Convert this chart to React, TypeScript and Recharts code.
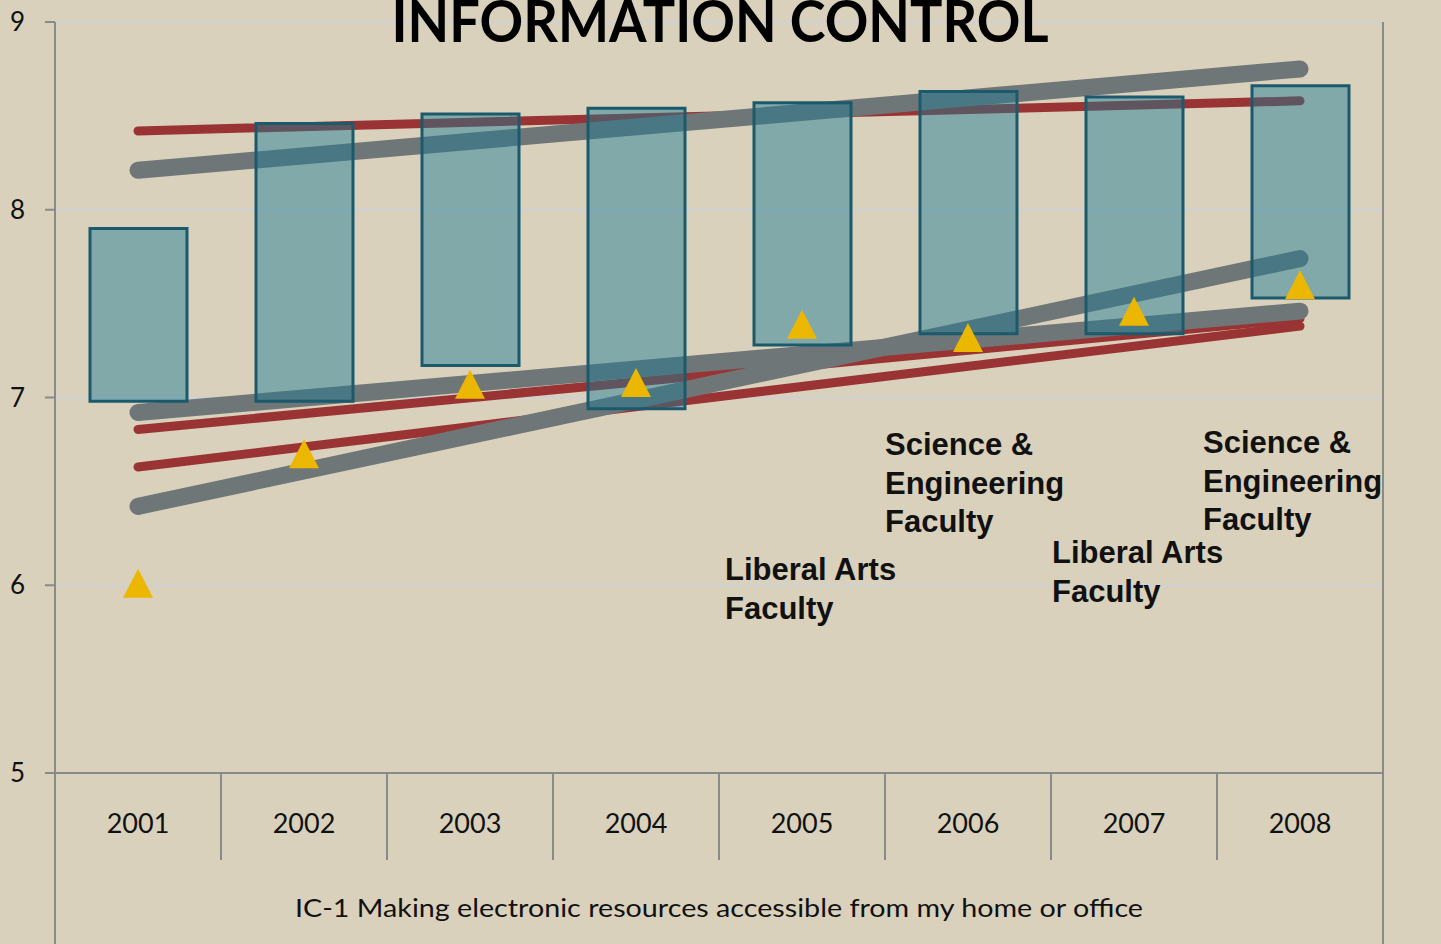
import React from 'react';
import { ComposedChart, Bar, Line, XAxis, YAxis, CartesianGrid } from 'recharts';

const years = ['2001', '2002', '2003', '2004', '2005', '2006', '2007', '2008'];
const rangeLow = [6.98, 6.98, 7.17, 6.94, 7.28, 7.34, 7.34, 7.53];
const rangeHigh = [7.9, 8.46, 8.51, 8.54, 8.57, 8.63, 8.6, 8.66];
const ratings = [6.01, 6.7, 7.07, 7.08, 7.39, 7.32, 7.46, 7.6];

// trend lines: value at 2001, value at 2008
const greyTrendA = [8.21, 8.75];
const redTrendA = [8.42, 8.58];
const greyTrendB = [6.92, 7.46];
const redTrendB = [6.83, 7.42];
const redTrendC = [6.63, 7.38];
const greyTrendC = [6.42, 7.74];

const yTicks = [5, 6, 7, 8, 9];

const BG = '#d9d1bc';
const AXIS = '#8a8a8a';
const GRID = '#cfd0d3';
const RED = '#9a3434';
const GREY = '#6f7678';

const W = 1441;
const H = 944;
const PLOT_LEFT = 55;
const PLOT_RIGHT = 1383;
const PLOT_TOP = 22;
const PLOT_BOTTOM = 773;
const BAND = (PLOT_RIGHT - PLOT_LEFT) / years.length;
const BAR_SIZE = 97;

const ends = (pair: number[], i: number) =>
  i === 0 ? pair[0] : i === years.length - 1 ? pair[1] : null;

const data = years.map((year, i) => ({
  year,
  range: [rangeLow[i], rangeHigh[i]],
  rating: ratings[i],
  greyA: ends(greyTrendA, i),
  redA: ends(redTrendA, i),
  greyB: ends(greyTrendB, i),
  redB: ends(redTrendB, i),
  redC: ends(redTrendC, i),
  greyC: ends(greyTrendC, i),
}));

const annotations = [
  { lines: ['Science &', 'Engineering', 'Faculty'], x: 885, y: 455 },
  { lines: ['Science &', 'Engineering', 'Faculty'], x: 1203, y: 453 },
  { lines: ['Liberal Arts', 'Faculty'], x: 725, y: 580 },
  { lines: ['Liberal Arts', 'Faculty'], x: 1052, y: 563 },
];

const Triangle = (props: any) => {
  const { cx, cy, index } = props;
  if (cx == null || cy == null) return null;
  const w = 30;
  const h = 29;
  return (
    <polygon
      key={`tri-${index}`}
      points={`${cx},${cy - h / 2} ${cx - w / 2},${cy + h / 2} ${cx + w / 2},${cy + h / 2}`}
      fill="#ecb700"
    />
  );
};

const YearTick = (props: any) => {
  const { x, y, payload, index } = props;
  return (
    <g>
      <text x={x} y={y + 60} textAnchor="middle" fontFamily="Lato" fontSize={27} fill="#111">
        {payload.value}
      </text>
      {index < years.length - 1 && (
        <line x1={x + BAND / 2} y1={y} x2={x + BAND / 2} y2={y + 87} stroke={AXIS} strokeWidth={2} />
      )}
    </g>
  );
};

const trendLine = (key: string, color: string, width: number) => (
  <Line
    key={key}
    yAxisId="left"
    dataKey={key}
    type="linear"
    stroke={color}
    strokeWidth={width}
    strokeLinecap="round"
    connectNulls
    dot={false}
    activeDot={false}
    isAnimationActive={false}
  />
);

const layer: React.CSSProperties = { position: 'absolute', left: 0, top: 0 };

export default function App() {
  return (
    <div style={{ position: 'absolute', left: 0, top: 0, width: W, height: H, background: BG, overflow: 'hidden' }}>
      {/* axes, grid and trend lines (drawn under the bars) */}
      <div style={layer}>
        <ComposedChart
          width={W}
          height={H}
          data={data}
          margin={{ top: PLOT_TOP, right: 0, bottom: 0, left: 0 }}
        >
          <CartesianGrid yAxisId="left" vertical={false} stroke={GRID} strokeWidth={2} />
          <XAxis
            dataKey="year"
            height={H - PLOT_BOTTOM}
            axisLine={{ stroke: AXIS, strokeWidth: 2 }}
            tickLine={false}
            tickSize={0}
            tickMargin={0}
            tick={<YearTick />}
            interval={0}
          />
          <YAxis
            yAxisId="left"
            width={PLOT_LEFT}
            domain={[5, 9]}
            ticks={yTicks}
            axisLine={{ stroke: AXIS, strokeWidth: 2 }}
            tickLine={{ stroke: AXIS, strokeWidth: 2 }}
            tickSize={10}
            tickMargin={20}
            tick={{ fontFamily: 'Lato', fontSize: 26, fill: '#111' }}
          />
          <YAxis
            yAxisId="right"
            orientation="right"
            width={W - PLOT_RIGHT}
            domain={[5, 9]}
            ticks={yTicks}
            axisLine={{ stroke: AXIS, strokeWidth: 2 }}
            tickLine={{ stroke: AXIS, strokeWidth: 2 }}
            tickSize={10}
            tickMargin={18}
            tick={{ fontFamily: 'Lato', fontSize: 26, fill: '#111', textAnchor: 'start' }}
          />
          {/* invisible bar keeps the category axis in band mode, same as the top layer */}
          <Bar yAxisId="left" dataKey="range" barSize={BAR_SIZE} fill="none" stroke="none" isAnimationActive={false} />
          {trendLine('redA', RED, 9)}
          {trendLine('greyA', GREY, 17)}
          {trendLine('redB', RED, 9)}
          {trendLine('redC', RED, 9)}
          {trendLine('greyB', GREY, 17)}
          {trendLine('greyC', GREY, 17)}
        </ComposedChart>
      </div>
      {/* floating bars and triangles on top */}
      <div style={layer}>
        <ComposedChart
          width={W}
          height={H}
          data={data}
          margin={{ top: PLOT_TOP, right: W - PLOT_RIGHT, bottom: H - PLOT_BOTTOM, left: PLOT_LEFT }}
        >
          <XAxis dataKey="year" hide />
          <YAxis yAxisId="left" hide domain={[5, 9]} />
          <Bar
            yAxisId="left"
            dataKey="range"
            barSize={BAR_SIZE}
            fill="#1d7b92"
            fillOpacity={0.46}
            stroke="#1b5a6c"
            strokeWidth={3}
            isAnimationActive={false}
          />
          <Line
            yAxisId="left"
            dataKey="rating"
            stroke="none"
            dot={<Triangle />}
            activeDot={false}
            isAnimationActive={false}
          />
        </ComposedChart>
      </div>
      <svg width={W} height={H} style={{ ...layer, pointerEvents: 'none' }}>
        <line x1={PLOT_LEFT} y1={PLOT_BOTTOM} x2={PLOT_LEFT} y2={H} stroke={AXIS} strokeWidth={2} />
        <line x1={PLOT_RIGHT} y1={PLOT_BOTTOM} x2={PLOT_RIGHT} y2={H} stroke={AXIS} strokeWidth={2} />
        <text
          x={720}
          y={42}
          textAnchor="middle"
          fontFamily="Lato"
          fontWeight="bold"
          fontSize={57}
          textLength={657}
          lengthAdjust="spacingAndGlyphs"
          fill="#000"
        >
          INFORMATION CONTROL
        </text>
        <text
          x={(PLOT_LEFT + PLOT_RIGHT) / 2}
          y={917}
          textAnchor="middle"
          fontFamily="Lato"
          fontSize={24.5}
          textLength={848}
          lengthAdjust="spacingAndGlyphs"
          fill="#111"
        >
          IC-1 Making electronic resources accessible from my home or office
        </text>
        {annotations.map((a, i) => (
          <text key={i} x={a.x} y={a.y} fontFamily="Liberation Sans" fontWeight="bold" fontSize={31} fill="#111">
            {a.lines.map((ln, j) => (
              <tspan key={j} x={a.x} dy={j === 0 ? 0 : 38.5}>
                {ln}
              </tspan>
            ))}
          </text>
        ))}
      </svg>
    </div>
  );
}
